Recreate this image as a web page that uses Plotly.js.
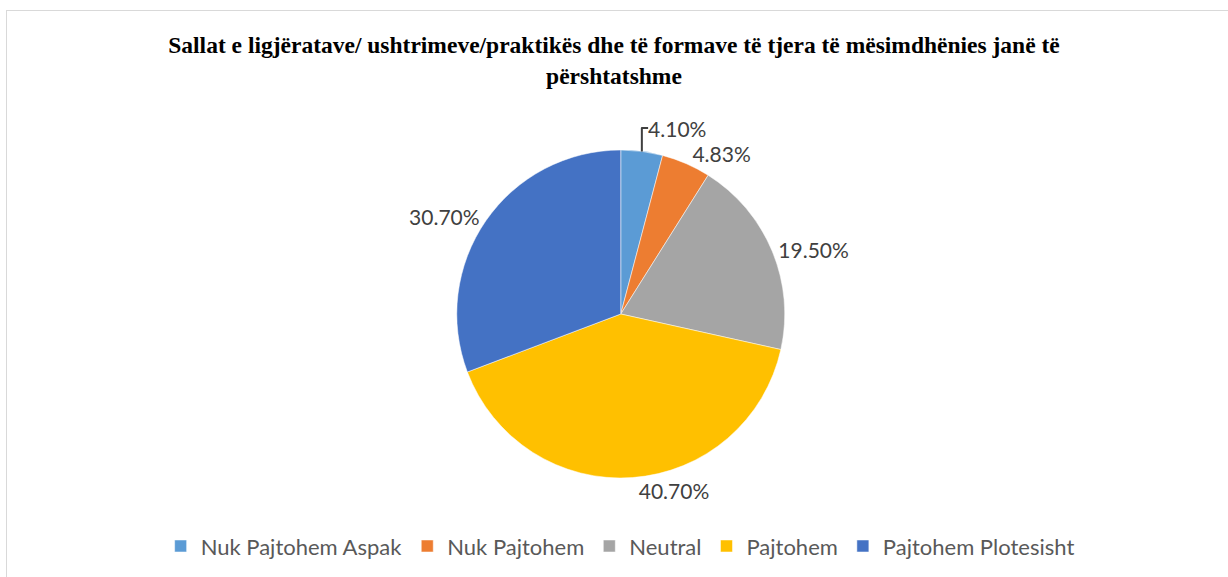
<!DOCTYPE html>
<html>
<head>
<meta charset="utf-8">
<script src="https://cdn.plot.ly/plotly-3.0.1.min.js"></script>
<style>
  html, body { margin: 0; padding: 0; background: #ffffff; }
  #chart { width: 1228px; height: 577px; position: relative; }
  #frame { position: absolute; left: 6px; top: 10px; width: 1400px; height: 800px;
           border: 1.5px solid #d9d9d9; pointer-events: none; box-sizing: border-box; }
</style>
</head>
<body>
<div id="chart"></div>
<div id="frame"></div>
<script>
const chartTitle = 'Sallat e ligjëratave/ ushtrimeve/praktikës dhe të formave të tjera të mësimdhënies janë të<br>përshtatshme';
const categories = ['Nuk Pajtohem Aspak', 'Nuk Pajtohem', 'Neutral', 'Pajtohem', 'Pajtohem Plotesisht'];
const percentValues = [4.10, 4.83, 19.50, 40.70, 30.70];
const sliceColors = ['#5B9BD5', '#ED7D31', '#A5A5A5', '#FFC000', '#4472C4'];

const data = [{
  type: 'pie',
  labels: categories,
  values: percentValues,
  text: percentValues.map(v => v.toFixed(2) + '%'),
  texttemplate: '%{text}',
  textinfo: 'text',
  textposition: 'outside',
  hoverinfo: 'label+text',
  sort: false,
  direction: 'clockwise',
  rotation: 0,
  marker: { colors: sliceColors, line: { color: '#ffffff', width: 0.5 } },
  outsidetextfont: { family: 'Lato, sans-serif', size: 21, color: '#404040' },
  domain: { x: [0.3, 0.711], y: [0.1716, 0.7400] }
}];

const layout = {
  width: 1228,
  height: 577,
  margin: { l: 0, r: 0, t: 0, b: 0 },
  paper_bgcolor: '#ffffff',
  title: {
    text: chartTitle,
    font: { family: '"Liberation Serif", "Times New Roman", serif', size: 23.5, color: '#000000', weight: 'bold' },
    x: 0.5, xanchor: 'center', y: 0.908, yanchor: 'top'
  },
  showlegend: true,
  legend: {
    orientation: 'h',
    x: 0.505, xanchor: 'center',
    y: 0.017, yanchor: 'bottom',
    font: { family: 'Lato, sans-serif', size: 22, color: '#595959' },
    itemwidth: 30
  }
};

Plotly.newPlot('chart', data, layout, { displayModeBar: false, staticPlot: true });
</script>
</body>
</html>
